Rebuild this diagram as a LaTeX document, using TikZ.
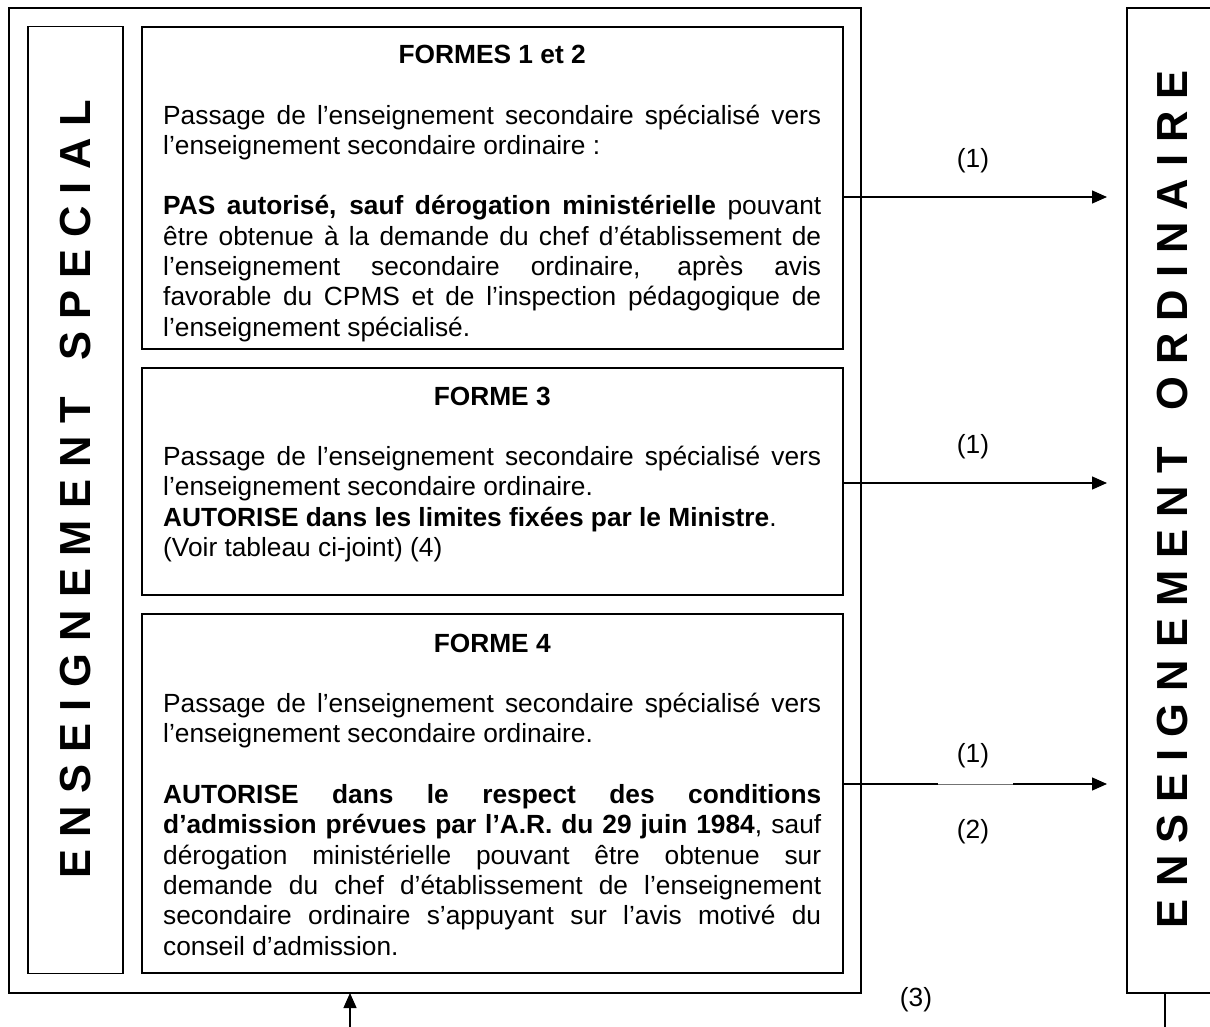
\documentclass[tikz,border=0pt]{standalone}
\usepackage{fontspec}
\setmainfont{Liberation Sans}
\usetikzlibrary{arrows.meta}
\tolerance=10000
\hbadness=10000
\hyphenpenalty=10000
\begin{document}
\begin{tikzpicture}[x=1pt,y=-1pt,
  frame/.style={draw, line width=1.6pt, inner sep=0pt, outer sep=0pt, anchor=north west},
  body/.style={inner sep=0pt, text width=658pt, align=justify, anchor=base west, font=\fontsize{26.3}{30.3}\selectfont},
  vert/.style={rotate=90, inner sep=0pt, font=\fontsize{43.5}{48}\selectfont\bfseries},
  lab/.style={inner sep=0pt, font=\fontsize{26.3}{30.3}\selectfont},
  conn/.style={line width=1.3pt, -{Triangle[length=15pt,width=13pt]}},
  thinseg/.style={line width=0.6pt, black!55},
]
\clip (0,0) rectangle (1210,1027);
% frames
\node[frame, minimum width=852pt, minimum height=985pt] (outer) at (9,8) {};
\node[frame, minimum width=95pt, minimum height=947pt] (special) at (28,26.5) {};
\node[frame, minimum width=701pt, minimum height=322pt] (f1) at (142,27) {};
\node[frame, minimum width=701pt, minimum height=227pt] (f2) at (142,368) {};
\node[frame, minimum width=701pt, minimum height=359pt] (f3) at (142,614) {};
\node[frame, minimum width=120pt, minimum height=985pt] (ordinaire) at (1127,8) {};
% vertical titles
\node[vert] (vs) at (75.5,489) {E~N~S~E~I~G~N~E~M~E~N~T~~~S~P~E~C~I~A~L};
\node[vert] (vo) at (1172.5,499) {E~N~S~E~I~G~N~E~M~E~N~T~~~O~R~D~I~N~A~I~R~E};
% box texts
\begin{scope}
\clip (f1.north west) rectangle ([yshift=-9pt]f1.south east);
\node[body] (t1) at (163,63.5) {{\centering\bfseries FORMES 1 et 2\par}
\vskip30.3pt
Passage de l’enseignement secondaire spécialisé vers\linebreak
l’enseignement secondaire ordinaire~:\par
\vskip30.3pt
\textbf{PAS autorisé, sauf dérogation ministérielle} pouvant\linebreak
être obtenue à la demande du chef d’établissement de\linebreak
l’enseignement secondaire ordinaire, après avis\linebreak
favorable du CPMS et de l’inspection pédagogique de\linebreak
l’enseignement spécialisé.};
\end{scope}
\node[body] (t2) at (163,405) {{\centering\bfseries FORME 3\par}
\vskip30.3pt
Passage de l’enseignement secondaire spécialisé vers\linebreak
l’enseignement secondaire ordinaire.\par
\textbf{AUTORISE dans les limites fixées par le Ministre}.\par
(Voir tableau ci-joint) (4)};
\node[body] (t3) at (163,652) {{\centering\bfseries FORME 4\par}
\vskip30.3pt
Passage de l’enseignement secondaire spécialisé vers\linebreak
l’enseignement secondaire ordinaire.\par
\vskip30.3pt
\textbf{AUTORISE dans le respect des conditions\linebreak
d’admission prévues par l’A.R. du 29 juin 1984}, sauf\linebreak
dérogation ministérielle pouvant être obtenue sur\linebreak
demande du chef d’établissement de l’enseignement\linebreak
secondaire ordinaire s’appuyant sur l’avis motivé du\linebreak
conseil d’admission.};
% connectors
\coordinate (e1) at (1107,197);
\coordinate (e2) at (1107,483);
\coordinate (e3) at (1107,784);
\coordinate (g3a) at (938,784);
\coordinate (g3b) at (1013,784);
\draw[conn] (f1.east |- e1) -- (e1);
\draw[conn] (f2.east |- e2) -- (e2);
\draw[line width=1.3pt] (f3.east |- e3) -- (g3a);
\draw[thinseg] (g3a) -- (g3b);
\draw[conn] (g3b) -- (e3);
\coordinate (u0) at (350,1027);
\draw[conn] (u0) -- (u0 |- outer.south);
\coordinate (d0) at (1165,1027);
\draw[line width=1.3pt] (ordinaire.south -| d0) -- (d0);
% labels
\node[lab] (l1) at (973,161) {(1)};
\node[lab] (l2) at (973,447) {(1)};
\node[lab] (l3) at (973,756) {(1)};
\node[lab] (l4) at (973,832) {(2)};
\node[lab] (l5) at (916,1000) {(3)};
\end{tikzpicture}
\end{document}
